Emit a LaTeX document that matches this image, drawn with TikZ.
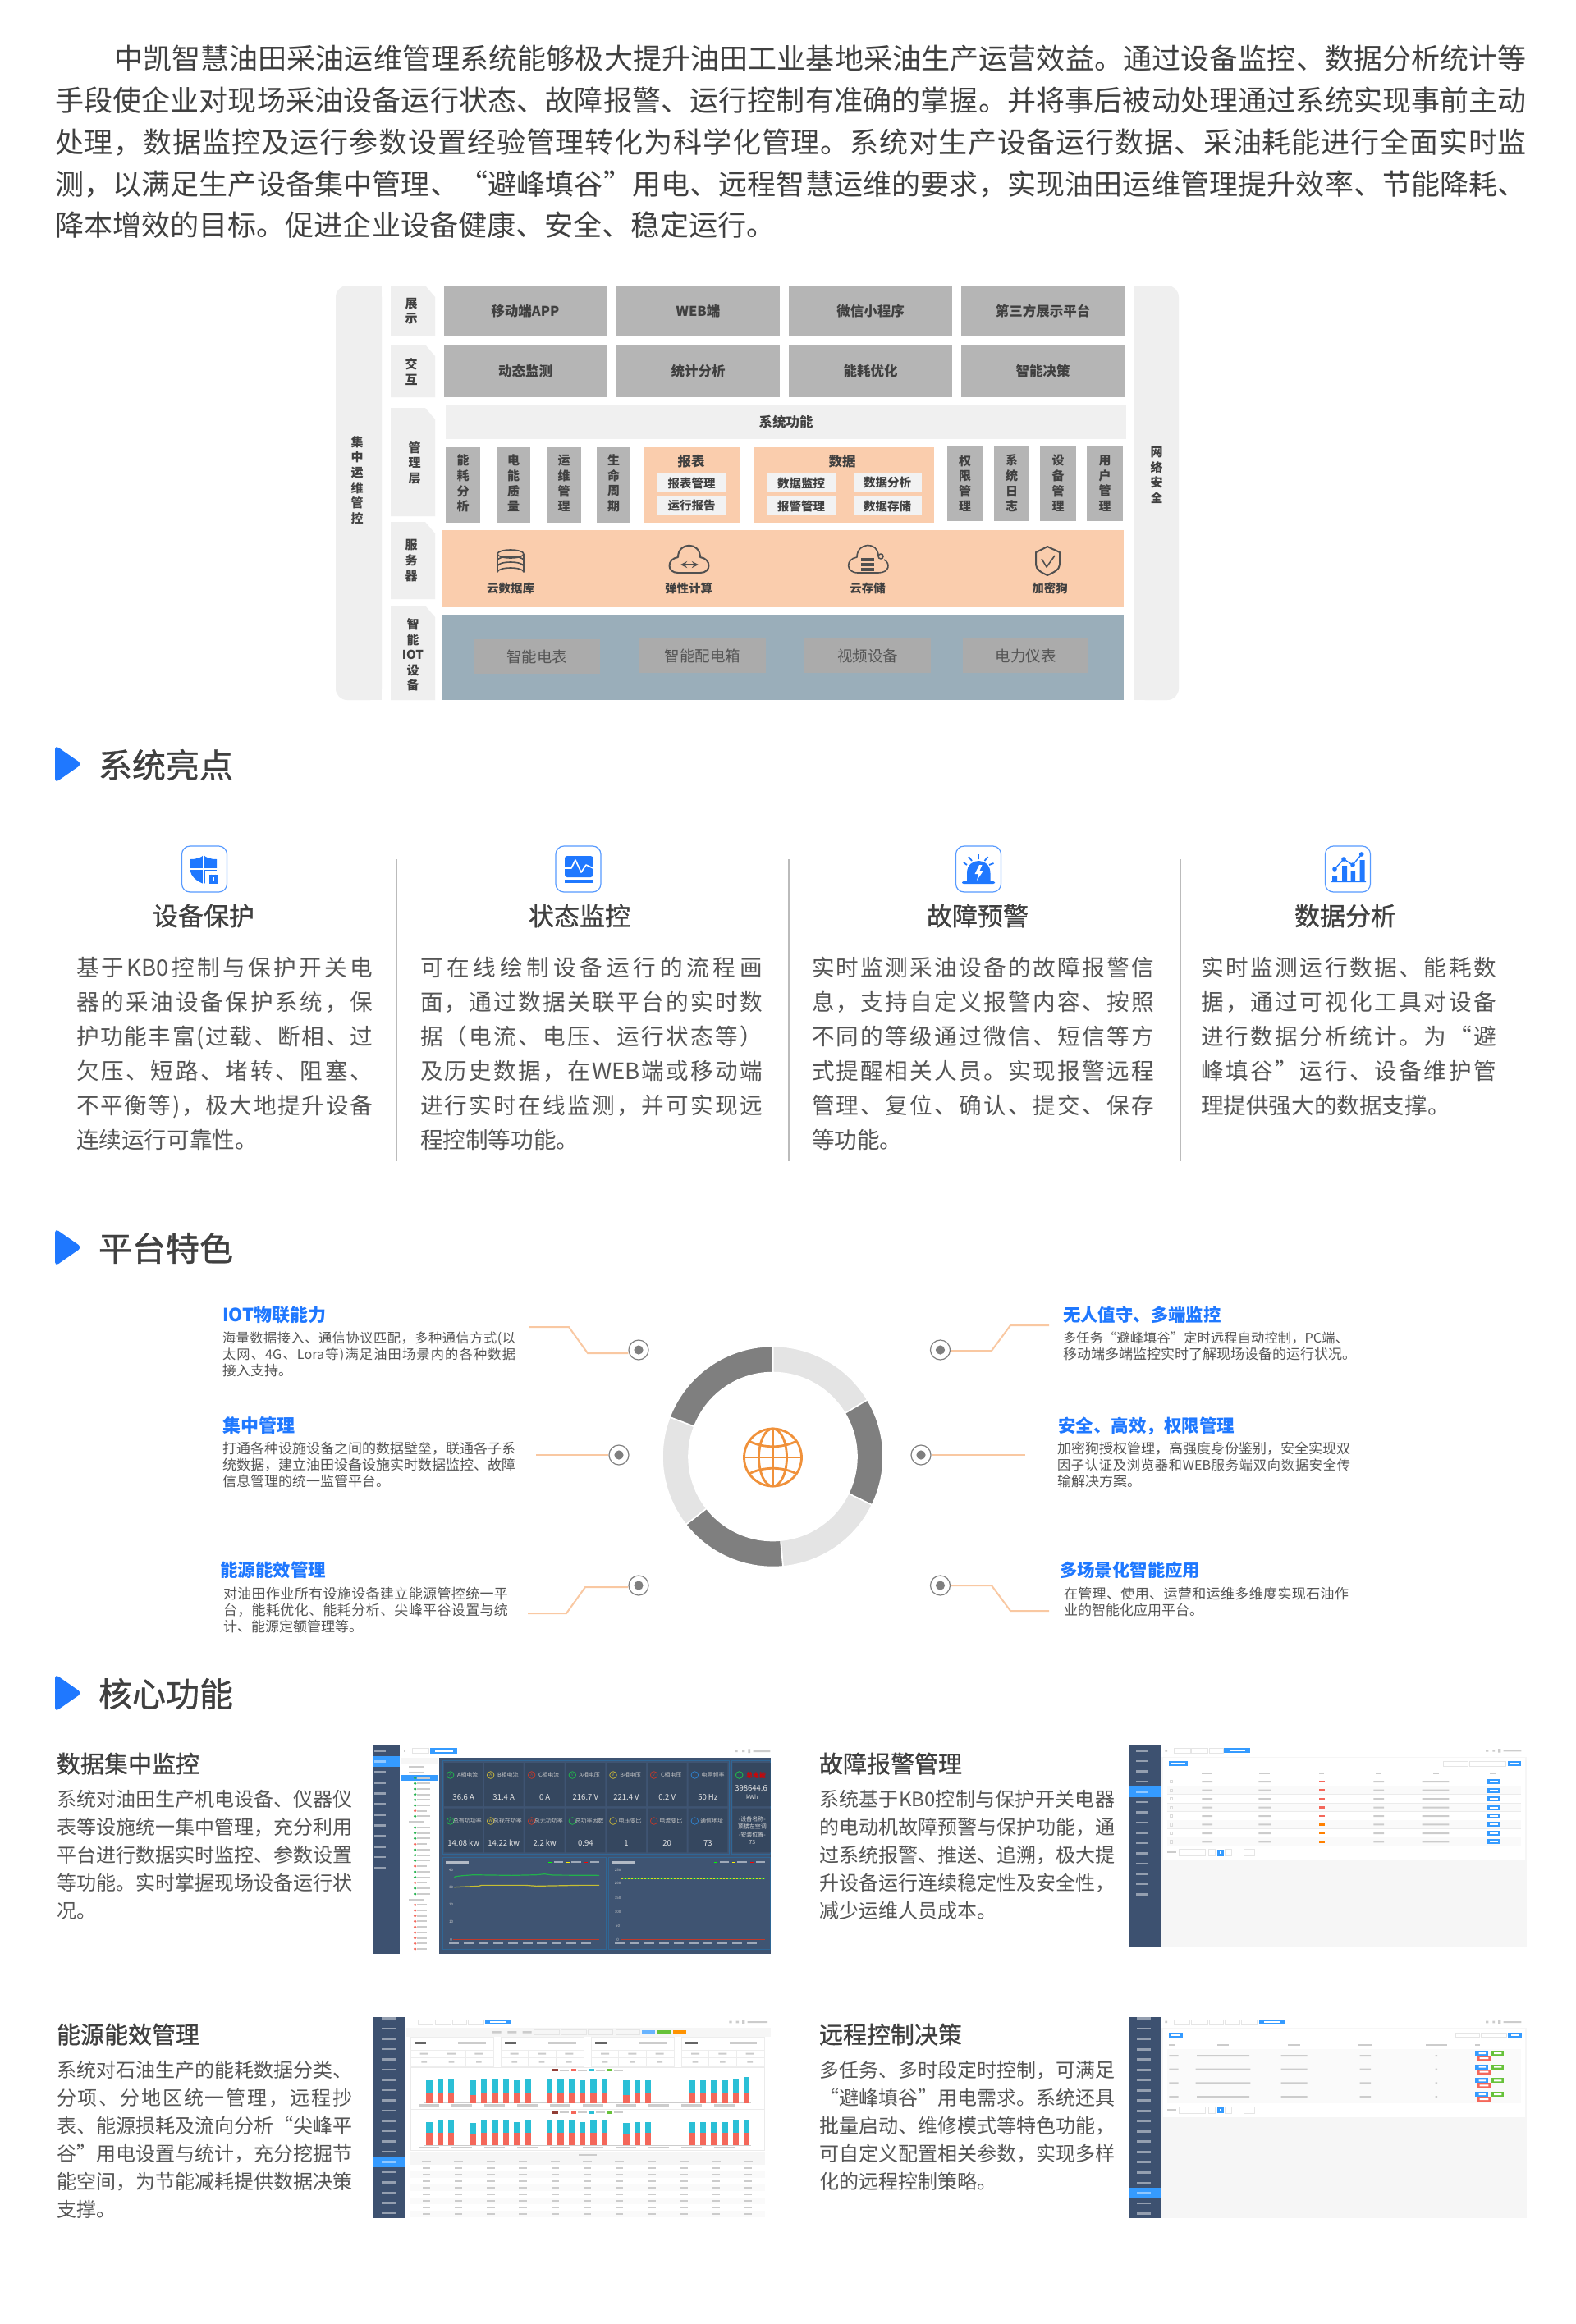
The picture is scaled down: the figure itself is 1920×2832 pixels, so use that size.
\documentclass[tikz,border=0pt]{standalone}
\usepackage{fontspec}
\setmainfont{Noto Sans CJK SC}
\newfontfamily\lbf[FakeBold=1.0]{Noto Sans CJK SC}
\definecolor{blueA}{HTML}{1F78FF}
\definecolor{txtD}{HTML}{404040}
\definecolor{txtB}{HTML}{555555}
\definecolor{lineO}{HTML}{F9C8A2}
\definecolor{panelG}{HTML}{EFEFEF}
\definecolor{grayB}{HTML}{B5B5B5}
\definecolor{orangeA}{HTML}{FACDAD}
\definecolor{steelB}{HTML}{9AAEBA}
\definecolor{boxG}{HTML}{ABABAB}
\definecolor{innerW}{HTML}{F2F2F2}
\definecolor{sideB}{HTML}{3D5170}
\definecolor{actB}{HTML}{359BFF}
\definecolor{darkM}{HTML}{3F5472}
\definecolor{cardD}{HTML}{35475F}
\definecolor{frameB}{HTML}{2F6796}
\definecolor{ringL}{HTML}{E4E4E4}
\definecolor{ringD}{HTML}{7F7F7F}
\definecolor{globeO}{HTML}{F0913A}
\definecolor{divG}{HTML}{BBBBBB}
\definecolor{blobG}{HTML}{CCCCCC}
\definecolor{bgS}{HTML}{F6F6F6}
\definecolor{rowS}{HTML}{FAFAFA}
\definecolor{gA}{HTML}{22B14C}
\definecolor{yA}{HTML}{C7B53A}
\definecolor{rA}{HTML}{C0392B}
\definecolor{bA}{HTML}{2F7FC8}
\definecolor{barR}{HTML}{F4675A}
\definecolor{barC}{HTML}{2BBFD6}
\definecolor{okG}{HTML}{67C23A}
\definecolor{darkI}{HTML}{505050}
\newcommand\pxf[1]{\fontsize{\fpeval{#1/2}}{\fpeval{#1*.6}}\selectfont}
% even spreading of a line over a fixed width: a glue between all units
\def\spStop{\spEndMark}
\def\spA#1{#1\spB}
\def\spB#1{\def\spTmp{#1}\ifx\spTmp\spStop\else\hskip 0pt plus 1fil\relax #1\expandafter\spB\fi}
\newcommand\Jl[7]{\node[jt,font=\pxf{#5},text=#6] (#1) at (#2,#3) {\vrule height.85em depth.15em width0pt\hbox to \dimexpr #4pt/2\relax{\spA#7\spEndMark}};}
\newcommand\Fl[6]{\node[ft,font=\pxf{#4},text=#5] (#1) at (#2,#3) {\vrule height.85em depth.15em width0pt #6};}
\tikzset{
  jt/.style={anchor=west,inner sep=0pt,outer sep=0pt},
  ft/.style={anchor=west,inner sep=0pt,outer sep=0pt},
  ct/.style={anchor=center,inner sep=0pt,outer sep=0pt,align=center},
  vlab/.style={ct,text=txtD,font=\fontsize{7.5}{9.3}\selectfont\bfseries},
  blab/.style={ct,text=txtD,font=\pxf{16.5}\bfseries},
  conn/.style={draw=lineO,line width=1pt},
  dotn/.style={circle,draw=ringD,fill=white,line width=.6pt,inner sep=0pt,minimum size=12pt},
  ic/.style={draw=darkI,line width=.8pt,line join=round},
  ibox/.style={draw=blueA!75,line width=.6pt,rounded corners=5pt,fill=white},
  tiny/.style={ct,font=\pxf{7},text=#1},
  tiny/.default=blobG
}
\begin{document}
\begin{tikzpicture}[x=0.5pt,y=-0.5pt]
\useasboundingbox (0,0) rectangle (1920,2832);
\fill[white] (0,0) rectangle (1920,2832);
% ---------- intro
\Jl{i1}{139}{72}{1721}{35}{txtD}{中凯智慧油田采油运维管理系统能够极大提升油田工业基地采油生产运营效益。通过设备监控、数据分析统计等}
\Jl{i2}{67}{123}{1793}{35}{txtD}{手段使企业对现场采油设备运行状态、故障报警、运行控制有准确的掌握。并将事后被动处理通过系统实现事前主动}
\Jl{i3}{67}{174}{1793}{35}{txtD}{处理，数据监控及运行参数设置经验管理转化为科学化管理。系统对生产设备运行数据、采油耗能进行全面实时监}
\Jl{i4}{67}{225}{1793}{35}{txtD}{测，以满足生产设备集中管理、“避峰填谷”用电、远程智慧运维的要求，实现油田运维管理提升效率、节能降耗、}
\Fl{i5}{67}{275}{35.1}{txtD}{降本增效的目标。促进企业设备健康、安全、稳定运行。}
% ---------- architecture
\fill[panelG,rounded corners=7pt] (409,348) -- (465,348) -- (465,853) -- (409,853) -- cycle;
\fill[panelG] (430,348) rectangle (465,853);
\fill[panelG,rounded corners=7pt] (1381,348) -- (1436,348) -- (1436,853) -- (1381,853) -- cycle;
\fill[panelG] (1381,348) rectangle (1410,853);
\foreach \ya/\yb in {348/409,420/484,497/629,636/730,738/853}
  \fill[panelG] (476,\ya) -- (518,\ya) -- (530,\ya+14) -- (530,\yb) -- (476,\yb) -- cycle;
\node[vlab] (lz) at (435,585) {集\\中\\运\\维\\管\\控};
\node[vlab] (ly) at (1409,579) {网\\络\\安\\全};
\node[vlab] (l1) at (501,379) {展\\示};
\node[vlab] (l2) at (501,453) {交\\互};
\node[vlab] (l3) at (505,564) {管\\理\\层};
\node[vlab] (l4) at (501,683) {服\\务\\器};
\node[vlab] (l5) at (503,798) {智\\能\\IOT\\设\\备};
\foreach \xa/\xb/\ta/\tb [count=\ii] in {541/739/移动端APP/动态监测,751/950/WEB端/统计分析,961/1160/微信小程序/能耗优化,1171/1370/第三方展示平台/智能决策}{
  \node[blab,fill=grayB,minimum width=(\xb-\xa)*0.5pt,minimum height=31pt] (ra\ii) at ({(\xa+\xb)/2},379) {\ta};
  \node[blab,fill=grayB,minimum width=(\xb-\xa)*0.5pt,minimum height=32pt] (rb\ii) at ({(\xa+\xb)/2},452) {\tb};
}
\node[blab,fill=panelG!95!white,minimum width=414.5pt,minimum height=20.5pt] (sys) at (957.5,514.5) {系统功能};
\foreach \xa/\xb/\tx [count=\ii] in {543/585/{能\\耗\\分\\析},605/646/{电\\能\\质\\量},666/708/{运\\维\\管\\理},727/768/{生\\命\\周\\期}}{
  \fill[grayB] (\xa,545) rectangle (\xb,637);
  \node[vlab] (va\ii) at ({(\xa+\xb)/2},589) {\tx};
}
\foreach \xa/\xb/\tx [count=\ii] in {1154/1197/{权\\限\\管\\理},1211/1254/{系\\统\\日\\志},1267/1311/{设\\备\\管\\理},1324/1368/{用\\户\\管\\理}}{
  \fill[grayB] (\xa,543) rectangle (\xb,635);
  \node[vlab] (vb\ii) at ({(\xa+\xb)/2},589) {\tx};
}
\fill[orangeA] (785,545) rectangle (901,637);
\fill[orangeA] (919,545) rectangle (1138,637);
\node[blab] (rpt) at (842,562) {报表};
\node[blab] (dat) at (1026,562) {数据};
\foreach \cx/\cy/\tx [count=\ii] in {842.5/588.5/报表管理,842.5/616.5/运行报告,976/588.5/数据监控,1081/588.5/数据分析,976/616.5/报警管理,1081/616.5/数据存储}{
  \node[blab,fill=innerW,minimum width=41.5pt,minimum height=11.5pt,font=\pxf{14.5}\bfseries] (sb\ii) at (\cx,\cy) {\tx};
}
\fill[orangeA] (539,646) rectangle (1369,740);
\fill[steelB] (539,749) rectangle (1369,853);
\foreach \cx/\cy/\tx [count=\ii] in {622/717/云数据库,839/717/弹性计算,1057/717/云存储,1279/717/加密狗}
  \node[blab,font=\pxf{14.5}\bfseries] (sv\ii) at (\cx,\cy) {\tx};
% server icons
\draw[ic] (606,675) arc[start angle=180,end angle=-180,x radius=16,y radius=5];
\draw[ic] (606,675) -- (606,697) arc[start angle=180,end angle=360,x radius=16,y radius=5] -- (638,675);
\draw[ic] (606,683) arc[start angle=180,end angle=360,x radius=16,y radius=5];
\draw[ic] (606,690) arc[start angle=180,end angle=360,x radius=16,y radius=5];
\draw[ic,line width=1pt] (826,698) .. controls (812,698) and (812,681) .. (826,679) .. controls (826,660) and (853,660) .. (853,679) .. controls (867,681) and (867,698) .. (853,698) -- cycle;
\draw[ic,<->,>=stealth] (829,688) -- (851,688);
\draw[ic] (1045,698) .. controls (1030,698) and (1030,681) .. (1044,679) .. controls (1044,660) and (1070,660) .. (1070,677);
\draw[ic] (1077,682) .. controls (1085,686) and (1084,698) .. (1070,698) -- (1045,698);
\draw[ic] (1073,678) circle (1.5pt);
\foreach \yy in {680,686,692} \fill[darkI] (1049,\yy) rectangle (1065,\yy+4);
\draw[ic,line width=1pt] (1276,666) -- (1291,673) -- (1291,688) .. controls (1291,694) and (1283,698) .. (1276,701) .. controls (1269,698) and (1262,694) .. (1262,688) -- (1262,673) -- cycle;
\draw[ic] (1269,681) -- (1275,691) -- (1285,677);
\foreach \xa/\xb/\ya/\tx [count=\ii] in {577/731/779/智能电表,779/933/778/智能配电箱,980/1134/778/视频设备,1173/1326/778/电力仪表}
  \node[ct,fill=boxG,text=txtB,font=\pxf{18.5},minimum width=(\xb-\xa)*0.5pt,minimum height=21pt,anchor=north] (io\ii) at ({(\xa+\xb)/2},\ya) {\tx};
% ---------- section heads
\foreach \yy/\tx [count=\ii] in {931/系统亮点,1520/平台特色,2063/核心功能}{
  \fill[blueA,rounded corners=2.5pt] (67,\yy-23) -- (100,\yy) -- (67,\yy+23) -- cycle;
  \node[ct,anchor=west,font=\pxf{41}\lbf,text=txtD] (h\ii) at (120,\yy+1) {\tx};
}
% ---------- highlights
\foreach \cx/\tx [count=\ii] in {249/设备保护,704.5/状态监控,1192/故障预警,1642/数据分析}{
  \node[ibox,minimum width=27.5pt,minimum height=28pt,inner sep=0pt] (ib\ii) at (\cx,1059) {};
}
\foreach \cx/\tx [count=\ii] in {248/设备保护,706/状态监控,1191/故障预警,1639/数据分析}
  \node[ct,font=\pxf{31}\lbf,text=txtD] (ht\ii) at (\cx,1116) {\tx};
\foreach \xx in {483,961,1438} \draw[divG,line width=1pt] (\xx,1047) -- (\xx,1415);
% shield
\fill[blueA] (232,1047) .. controls (240,1047) and (245,1045) .. (248,1042) .. controls (251,1045) and (256,1047) .. (264,1047) -- (264,1060) .. controls (264,1068) and (256,1074) .. (248,1077) .. controls (240,1074) and (232,1068) .. (232,1060) -- cycle;
\draw[white,line width=1pt] (248,1040) -- (248,1078) (230,1059) -- (266,1059);
\fill[white] (250,1061) rectangle (267,1079);
\fill[blueA] (255,1066) rectangle (265,1077);
\draw[blueA,line width=.6pt] (257,1066) arc[start angle=180,end angle=0,radius=3];
\fill[white] (259.5,1069) rectangle (260.5,1074);
% monitor
\fill[blueA,rounded corners=1.5pt] (688,1043) rectangle (722.5,1069);
\fill[blueA] (688,1072) rectangle (722.5,1076);
\draw[white,line width=.8pt,line join=round] (688,1058) -- (696,1058) -- (701,1048) -- (708,1063) -- (714,1054) -- (722.5,1058);
% alarm
\fill[blueA] (1178,1073) -- (1178,1064) .. controls (1178,1044) and (1206.5,1044) .. (1206.5,1064) -- (1206.5,1073) -- cycle;
\fill[blueA,rounded corners=1pt] (1172,1074) rectangle (1212,1077);
\fill[white] (1193,1054) -- (1187.5,1065) -- (1192,1065) -- (1190,1073) -- (1198,1061) -- (1193.5,1061) -- (1196.5,1054) -- cycle;
\draw[blueA,line width=.9pt] (1192,1041) -- (1192,1047) (1180,1044) -- (1184,1049) (1199.5,1049) -- (1203.5,1044) (1174,1051) -- (1178,1054) (1205,1054) -- (1210.5,1052);
% chart
\fill[blueA] (1623,1067) rectangle (1629,1073) (1635,1055) rectangle (1641,1073) (1645.5,1061) rectangle (1651,1073) (1656.6,1048) rectangle (1662.5,1073) (1622,1073) rectangle (1664,1075);
\draw[blueA,line width=.7pt] (1626,1059) -- (1637,1047) -- (1648,1054) -- (1658.7,1041);
\foreach \a/\b in {1626/1059,1637/1047,1648/1054,1658.7/1041} \fill[blueA] (\a,\b) circle (1.4pt);
% highlight text
\Jl{a1}{93}{1180}{361}{27.6}{txtB}{基于{KB0}控制与保护开关电}
\Jl{a2}{93}{1222}{361}{27.6}{txtB}{器的采油设备保护系统，保}
\Jl{a3}{93}{1264}{361}{27.6}{txtB}{护功能丰富(过载、断相、过}
\Jl{a4}{93}{1306}{361}{27.6}{txtB}{欠压、短路、堵转、阻塞、}
\Jl{a5}{93}{1348}{361}{27.6}{txtB}{不平衡等)，极大地提升设备}
\Fl{a6}{93}{1390}{27.6}{txtB}{连续运行可靠性。}
\Jl{b1}{512}{1180}{417}{27.6}{txtB}{可在线绘制设备运行的流程画}
\Jl{b2}{512}{1222}{417}{27.6}{txtB}{面，通过数据关联平台的实时数}
\Jl{b3}{512}{1264}{417}{27.6}{txtB}{据（电流、电压、运行状态等）}
\Jl{b4}{512}{1306}{417}{27.6}{txtB}{及历史数据，在{WEB}端或移动端}
\Jl{b5}{512}{1348}{417}{27.6}{txtB}{进行实时在线监测，并可实现远}
\Fl{b6}{512}{1390}{27.6}{txtB}{程控制等功能。}
\Jl{c1}{989}{1180}{417}{27.6}{txtB}{实时监测采油设备的故障报警信}
\Jl{c2}{989}{1222}{417}{27.6}{txtB}{息，支持自定义报警内容、按照}
\Jl{c3}{989}{1264}{417}{27.6}{txtB}{不同的等级通过微信、短信等方}
\Jl{c4}{989}{1306}{417}{27.6}{txtB}{式提醒相关人员。实现报警远程}
\Jl{c5}{989}{1348}{417}{27.6}{txtB}{管理、复位、确认、提交、保存}
\Fl{c6}{989}{1390}{27.6}{txtB}{等功能。}
\Jl{d1}{1463}{1180}{360}{27.6}{txtB}{实时监测运行数据、能耗数}
\Jl{d2}{1463}{1222}{360}{27.6}{txtB}{据，通过可视化工具对设备}
\Jl{d3}{1463}{1264}{360}{27.6}{txtB}{进行数据分析统计。为“避}
\Jl{d4}{1463}{1306}{360}{27.6}{txtB}{峰填谷”运行、设备维护管}
\Fl{d5}{1463}{1348}{27.6}{txtB}{理提供强大的数据支撑。}
% ---------- platform
\Fl{pa}{271}{1603}{22}{blueA}{\bfseries IOT物联能力}
\Jl{pa1}{271}{1631}{357}{16.2}{txtB}{海量数据接入、通信协议匹配，多种通信方式(以}
\Jl{pa2}{271}{1651}{357}{16.2}{txtB}{太网、{4G}、{Lora}等)满足油田场景内的各种数据}
\Fl{pa3}{271}{1671}{17}{txtB}{接入支持。}
\Fl{pb}{271}{1738}{22}{blueA}{\bfseries 集中管理}
\Jl{pb1}{271}{1766}{357}{17}{txtB}{打通各种设施设备之间的数据壁垒，联通各子系}
\Jl{pb2}{271}{1786}{357}{17}{txtB}{统数据，建立油田设备设施实时数据监控、故障}
\Fl{pb3}{271}{1806}{17}{txtB}{信息管理的统一监管平台。}
\Fl{pc}{268}{1914}{21.5}{blueA}{\bfseries 能源能效管理}
\Jl{pc1}{272}{1943}{347}{17}{txtB}{对油田作业所有设施设备建立能源管控统一平}
\Jl{pc2}{272}{1963}{347}{17}{txtB}{台，能耗优化、能耗分析、尖峰平谷设置与统}
\Fl{pc3}{272}{1983}{17}{txtB}{计、能源定额管理等。}
\Fl{pd}{1295}{1603}{21.4}{blueA}{\bfseries 无人值守、多端监控}
\Jl{pd1}{1295}{1631}{348}{16.2}{txtB}{多任务“避峰填谷”定时远程自动控制，{PC}端、}
\Fl{pd2}{1295}{1651}{17}{txtB}{移动端多端监控实时了解现场设备的运行状况。}
\Fl{pe}{1289}{1738}{21.5}{blueA}{\bfseries 安全、高效，权限管理}
\Jl{pe1}{1288}{1766}{357}{17}{txtB}{加密狗授权管理，高强度身份鉴别，安全实现双}
\Jl{pe2}{1288}{1786}{357}{16.2}{txtB}{因子认证及浏览器和{WEB}服务端双向数据安全传}
\Fl{pe3}{1288}{1806}{17}{txtB}{输解决方案。}
\Fl{pf}{1291}{1914}{21.4}{blueA}{\bfseries 多场景化智能应用}
\Jl{pf1}{1296}{1943}{347}{17}{txtB}{在管理、使用、运营和运维多维度实现石油作}
\Fl{pf2}{1296}{1963}{17}{txtB}{业的智能化应用平台。}
% dots and connectors
\foreach \nm/\xx/\yy in {q1/778/1645,q2/754/1773,q3/778/1932,q4/1145.5/1645,q5/1122/1773,q6/1145.5/1932}{
  \node[dotn] (\nm) at (\xx,\yy) {};
  \fill[ringD] (\nm) circle (2.8pt);
}
\coordinate (k1) at (645,1617); \coordinate (k1b) at (716,1649);
\draw[conn] (k1) -- (693,1617) -- (k1b) -- (q1.west |- k1b);
\coordinate (k2) at (653,1773);
\draw[conn] (k2) -- (q2.west);
\coordinate (k3) at (643,1966); \coordinate (k3b) at (713,1934);
\draw[conn] (k3) -- (690,1966) -- (k3b) -- (q3.west |- k3b);
\coordinate (k4) at (1278,1615); \coordinate (k4b) at (1208,1646);
\draw[conn] (k4) -- (1231,1615) -- (k4b) -- (q4.east |- k4b);
\coordinate (k5) at (1249,1773);
\draw[conn] (k5) -- (q5.east);
\coordinate (k6) at (1278,1963); \coordinate (k6b) at (1208,1932);
\draw[conn] (k6) -- (1231,1963) -- (k6b) -- (q6.east |- k6b);
% ring
\begin{scope}[shift={(941.5,1775)},x=0.5pt,y=0.5pt]
\foreach \a/\b/\cc in {90/31/ringL,31/-26/ringD,-26/-84.7/ringL,-84.7/-142/ringD,-142/-201/ringL,159/90/ringD}
  \fill[\cc,draw=white,line width=.8pt] (\a:134.5) arc[start angle=\a,end angle=\b,radius=134.5] -- (\b:102.5) arc[start angle=\b,end angle=\a,radius=102.5] -- cycle;
\end{scope}
% globe
\begin{scope}[shift={(941.5,1776)},x=0.5pt,y=0.5pt,globeO,line width=1.4pt]
\draw (0,0) circle (35);
\draw (0,0) ellipse (17 and 35);
\draw (0,35) -- (0,-35) (-35,0) -- (35,0);
\draw (-29,20) .. controls (-12,11) and (12,11) .. (29,20);
\draw (-29,-20) .. controls (-12,-11) and (12,-11) .. (29,-20);
\end{scope}
% ---------- core text
\Fl{t1}{69}{2150}{29}{txtD}{\lbf 数据集中监控}
\Jl{t11}{69}{2193}{360}{24}{txtB}{系统对油田生产机电设备、仪器仪}
\Jl{t12}{69}{2227}{360}{24}{txtB}{表等设施统一集中管理，充分利用}
\Jl{t13}{69}{2261}{360}{24}{txtB}{平台进行数据实时监控、参数设置}
\Jl{t14}{69}{2295}{360}{24}{txtB}{等功能。实时掌握现场设备运行状}
\Fl{t15}{69}{2329}{24}{txtB}{况。}
\Fl{t2}{69}{2480}{29}{txtD}{\lbf 能源能效管理}
\Fl{t21}{69}{2523}{24}{txtB}{系统对石油生产的能耗数据分类、}
\Jl{t22}{69}{2557}{360}{24}{txtB}{分项、分地区统一管理，远程抄}
\Jl{t23}{69}{2591}{360}{24}{txtB}{表、能源损耗及流向分析“尖峰平}
\Jl{t24}{69}{2625}{360}{24}{txtB}{谷”用电设置与统计，充分挖掘节}
\Jl{t25}{69}{2659}{360}{24}{txtB}{能空间，为节能减耗提供数据决策}
\Fl{t26}{69}{2693}{24}{txtB}{支撑。}
\Fl{t3}{998}{2150}{29}{txtD}{\lbf 故障报警管理}
\Jl{t31}{998}{2193}{360}{24}{txtB}{系统基于{KB0}控制与保护开关电器}
\Jl{t32}{998}{2227}{360}{24}{txtB}{的电动机故障预警与保护功能，通}
\Jl{t33}{998}{2261}{360}{24}{txtB}{过系统报警、推送、追溯，极大提}
\Fl{t34}{998}{2295}{24}{txtB}{升设备运行连续稳定性及安全性，}
\Fl{t35}{998}{2329}{24}{txtB}{减少运维人员成本。}
\Fl{t4}{998}{2480}{29}{txtD}{\lbf 远程控制决策}
\Jl{t41}{998}{2523}{360}{24}{txtB}{多任务、多时段定时控制，可满足}
\Jl{t42}{998}{2557}{360}{24}{txtB}{“避峰填谷”用电需求。系统还具}
\Fl{t43}{998}{2591}{24}{txtB}{批量启动、维修模式等特色功能，}
\Jl{t44}{998}{2625}{360}{24}{txtB}{可自定义配置相关参数，实现多样}
\Fl{t45}{998}{2659}{24}{txtB}{化的远程控制策略。}
% ---------- screenshot 1
\begin{scope}[shift={(440,2120)},x=0.16667pt,y=-0.16667pt]
\fill[sideB] (41,22) rectangle (141,784);
\fill[actB] (41,61) rectangle (141,99);
\foreach \yy in {41,80,119,158,197,236,275,313,352,391,429,468} \fill[white,opacity=.45] (47,\yy-4) rectangle (90,\yy+4);
\fill[bgS] (145,67) rectangle (280,87);
\fill[actB] (145,130) rectangle (280,150);
\foreach \yy in {100,120,300,584} \fill[blobG] (175,\yy-3) rectangle (232,\yy+3);
\foreach \yy in {140,160,180,200,220,240,280,321,341,361,402,422,442,483,503,543,564} {\fill[gA] (197,\yy) circle (.9pt); \fill[blobG] (204,\yy-3) rectangle (252,\yy+3);}
\foreach \yy in {260,382,462,523,604,624,644,664,685,705,725,745,765} {\fill[barR] (197,\yy) circle (.9pt); \fill[blobG] (204,\yy-3) rectangle (240,\yy+3);}
\draw[blobG!50,line width=.3pt] (187,32) rectangle (248,50);
\fill[actB] (253,31) rectangle (352,50);
\fill[white] (270,37) rectangle (335,44);
\fill[blobG] (155,38) rectangle (162,44);
\fill[blobG] (1365,38) rectangle (1376,45) (1392,38) rectangle (1402,45) (1414,34) rectangle (1422,48) (1433,38) rectangle (1495,45);
\fill[darkM] (285,65) rectangle (1496,782);
\draw[frameB,line width=.8pt] (297,76) rectangle (1346,418) (1354,76) rectangle (1496,418) (299,431) rectangle (897,766) (905,431) rectangle (1496,766);
\foreach \xa/\cc/\la/\va/\lb/\vb/\ia/\ib [count=\ii] in {
 303/gA/A相电流/36.6 A/总有功功率/14.08 kw/A/W,
 450/yA/B相电流/31.4 A/总视在功率/14.22 kw/A/W,
 600/rA/C相电流/0 A/总无功功率/2.2 kw/A/W,
 749/gA/A相电压/216.7 V/总功率因数/0.94/V/,
 898/yA/B相电压/221.4 V/电压变比/1/V/,
 1047/rA/C相电压/0.2 V/电流变比/20/V/,
 1196/bA/电网频率/50 Hz/通信地址/73//}{
  \fill[cardD] (\xa,84) rectangle (\xa+143,243) (\xa,251) rectangle (\xa+143,412);
  \node[circle,draw=\cc,line width=.4pt,minimum size=4.3pt,inner sep=0pt,font=\pxf{4.5},text=\cc] (cia\ii) at (\xa+23,129) {\ia};
  \node[circle,draw=\cc,line width=.4pt,minimum size=4.3pt,inner sep=0pt,font=\pxf{4.5},text=\cc] (cib\ii) at (\xa+23,297) {\ib};
  \node[tiny=white!78!black,anchor=west] (cla\ii) at (\xa+48,129) {\la};
  \node[tiny=white!78!black,anchor=center] (clb\ii) at (\xa+85,297) {\lb};
  \node[ct,font=\pxf{9.5},text=white!90!black] (cva\ii) at (\xa+71,209) {\va};
  \node[ct,font=\pxf{9.5},text=white!90!black] (cvb\ii) at (\xa+71,378) {\vb};
}
\fill[cardD] (1357,84) rectangle (1496,243) (1357,251) rectangle (1496,412);
\node[circle,draw=gA,line width=.5pt,minimum size=4.3pt,inner sep=0pt] (cz) at (1382,129) {};
\node[ct,font=\pxf{8}\bfseries,text=red!85!black] (czl) at (1443,129) {总电能};
\node[ct,font=\pxf{9.5},text=white!90!black] (czv) at (1425,178) {398644.6};
\node[tiny=white!85!black] (czu) at (1429,208) {kWh};
\node[tiny=white!85!black] (cz1) at (1429,290) {-设备名称-};
\node[tiny=white!85!black] (cz2) at (1429,318) {顶楼左空调};
\node[tiny=white!85!black] (cz3) at (1429,346) {-安装位置-};
\node[tiny=white!85!black] (cz4) at (1429,374) {73};
\foreach \xa in {0,606} {
  \fill[white,opacity=.6] (\xa+310,444) rectangle (\xa+392,453);
  \foreach \xb/\cc in {690/green,755/yellow,822/red} {\fill[\cc] (\xa+\xb-6,446) rectangle (\xa+\xb+6,450); \fill[white,opacity=.5] (\xa+\xb+14,445) rectangle (\xa+\xb+48,451);}
  \foreach \xb in {340,393.5,447,500.5,554,607.5,661,714.5,768,821.5} \fill[white,opacity=.5] (\xa+\xb-18,739) rectangle (\xa+\xb+18,746);
}
\foreach \yy/\tx [count=\ii] in {476/40,539/30,603/20,667/10,731/0} \node[ct,font=\pxf{4.5},text=white!80!black] (ax\ii) at (329,\yy) {\tx};
\foreach \yy/\tx [count=\ii] in {476/250,526/200,578/150,629/100,680/50,731/0} \node[ct,font=\pxf{4.5},text=white!80!black] (bx\ii) at (938,\yy) {\tx};
\draw[gA,line width=.6pt] (340,503) -- (345,500) -- (370,497) -- (410,494) -- (550,496) -- (640,494) -- (670,491) -- (700,495) -- (870,496);
\draw[yellow!75!black,line width=.6pt] (340,539) -- (430,535) -- (440,532) -- (600,532) -- (640,535) -- (800,532) -- (870,532);
\draw[rA,line width=.6pt] (335,731) -- (870,731);
\draw[gA,line width=1pt] (950,508) -- (1475,508);
\draw[yellow!85!black,line width=.6pt,dash pattern=on 1pt off 1pt] (950,508) -- (1475,508);
\draw[rA,line width=.6pt] (950,731) -- (1475,731);
\end{scope}
% ---------- screenshot 2
\begin{scope}[shift={(1370,2120)},x=0.16667pt,y=-0.16667pt]
\fill[bgS] (136,62) rectangle (1470,757);
\fill[white] (141,66) rectangle (1465,438);
\fill[sideB] (15,22) rectangle (136,757);
\fill[actB] (15,172) rectangle (136,209);
\foreach \yy in {41,78,116,153,190,228,265,303,340,378,415,453,490,528,565} \fill[white,opacity=.45] (42,\yy-4) rectangle (88,\yy+4);
\foreach \xa/\xb in {180/240,245/305,310/360} \draw[blobG!50,line width=.3pt] (\xa,31) rectangle (\xb,49);
\fill[actB] (363,30) rectangle (458,49);
\fill[white] (385,37) rectangle (440,43);
\fill[blobG] (148,37) rectangle (156,44) (1320,36) rectangle (1330,44) (1345,36) rectangle (1353,44) (1365,33) rectangle (1375,47) (1385,37) rectangle (1450,43);
\fill[actB] (163,79) rectangle (230,97);
\fill[white] (172,85) rectangle (222,91);
\draw[blobG!50,line width=.3pt] (1165,80) rectangle (1255,97) (1260,80) rectangle (1393,97);
\fill[actB] (1401,79) rectangle (1450,97);
\fill[white] (1410,85) rectangle (1440,91);
\foreach \xx/\ww in {302/20,512/20,720/10,929/10,1138/10,1345/10} \fill[blobG] (\xx-\ww,120) rectangle (\xx+\ww,126);
\foreach \yy [count=\ii] in {153,185,216,248,279,310,342,373} {
  \ifodd\ii\else \fill[rowS] (155,\yy-15) rectangle (1450,\yy+15); \fi
  \draw[blobG!40,line width=.2pt] (155,\yy+15) -- (1450,\yy+15);
  \draw[blobG!70,line width=.2pt] (165,\yy-5) rectangle (175,\yy+5);
  \fill[blobG] (283,\yy-3) rectangle (321,\yy+3) (490,\yy-3) rectangle (534,\yy+3) (910,\yy-3) rectangle (948,\yy+3) (1088,\yy-3) rectangle (1186,\yy+3);
  \fill[actB] (1326,\yy-9) rectangle (1374,\yy+9);
  \fill[white] (1335,\yy-3) rectangle (1365,\yy+3);
}
\foreach \yy in {153,185,216,248,279} \fill[barR] (711,\yy-4) rectangle (731,\yy+4);
\foreach \yy in {310,342,373} \fill[orange] (711,\yy-4) rectangle (731,\yy+4);
\fill[blobG] (156,409) rectangle (188,415);
\draw[blobG!50,line width=.3pt] (200,401) rectangle (295,424) (308,401) rectangle (332,424) (368,401) rectangle (392,424) (435,401) rectangle (474,424);
\fill[actB] (338,401) rectangle (362,425);
\fill[white] (348,409) rectangle (352,416);
\end{scope}
% ---------- screenshot 3
\begin{scope}[shift={(440,2450)},x=0.16667pt,y=-0.16667pt]
\fill[white] (162,24) rectangle (1496,758);
\fill[bgS] (165,62) rectangle (1496,96);
\fill[sideB] (42,24) rectangle (162,758);
\fill[actB] (42,534) rectangle (162,572);
\foreach \yy in {29,66,104,141,179,216,254,291,329,366,404,441,478,516,553,591,628,666,703,741} \fill[white,opacity=.45] (75,\yy-4) rectangle (125,\yy+4);
\foreach \xa/\xb in {208/262,270/328,335/385,392/448} \draw[blobG!50,line width=.3pt] (\xa,33) rectangle (\xb,51);
\fill[actB] (453,32) rectangle (548,51);
\fill[white] (470,38) rectangle (530,44);
\fill[blobG] (1345,38) rectangle (1355,46) (1370,38) rectangle (1380,46) (1392,35) rectangle (1402,49) (1412,39) rectangle (1485,45);
\fill[blobG] (480,75) rectangle (512,83) (535,75) rectangle (568,83) (590,75) rectangle (623,83);
\draw[blobG!50,line width=.3pt] (632,71) rectangle (724,88) (730,71) rectangle (822,88) (830,71) rectangle (918,88) (930,71) rectangle (1018,88);
\fill[actB!75] (1026,71) rectangle (1074,88);
\fill[okG] (1083,71) rectangle (1131,88);
\fill[orange!85!yellow] (1141,71) rectangle (1189,88);
\foreach \xa in {180,510,841,1171} {
  \fill[white,draw=blobG!35,line width=.3pt] (\xa,96) rectangle (\xa+303,204);
  \draw[blobG!35,line width=.2pt] (\xa,143) -- (\xa+303,143) (\xa,172) -- (\xa+303,172) (\xa+100,143) -- (\xa+100,204) (\xa+202,143) -- (\xa+202,204);
  \fill[black!60] (\xa+15,115) rectangle (\xa+58,123);
  \fill[blobG] (\xa+175,115) rectangle (\xa+275,122);
  \foreach \dx in {50,150,250} \fill[blobG] (\xa+\dx-15,155) rectangle (\xa+\dx+15,161) (\xa+\dx-10,185) rectangle (\xa+\dx+10,191);
}
\foreach \ya in {0,154} {
  \fill[barR!60!black] (700,\ya+214) rectangle (720,\ya+223);
  \fill[barR] (767,\ya+214) rectangle (787,\ya+223);
  \fill[barC] (833,\ya+214) rectangle (853,\ya+223);
  \fill[okG] (899,\ya+214) rectangle (919,\ya+223);
  \foreach \xx in {725,792,858,924} \fill[blobG] (\xx,\ya+215) rectangle (\xx+34,\ya+222);
  \foreach \xx in {248,368,488,608,728,848,968,1088,1208,1328} \fill[blobG] (\xx-38,\ya+343) rectangle (\xx+38,\ya+350);
}
\draw[blobG!40,line width=.3pt] (180,208) rectangle (1475,360) (180,362) rectangle (1475,512);
\draw[blobG,line width=.4pt] (230,338) -- (1425,338) (230,492) -- (1425,492);
\foreach \xx/\ca/\ra/\cb/\rb in {238/255/303/408/447,278/249/303/403/447,318/249/303/403/447,398/255/309/411/454,438/249/303/403/447,478/249/303/403/447,518/249/303/403/447,558/255/303/408/447,598/249/303/403/447,678/249/303/403/447,718/249/303/403/447,758/249/303/403/447,798/255/303/408/447,838/249/303/403/447,878/249/303/403/447,958/255/309/411/454,998/255/303/408/447,1038/255/303/408/447,1198/255/303/408/447,1238/255/303/408/447,1278/255/303/408/447,1318/255/303/408/447,1358/249/303/403/447,1398/243/303/399/447}{
  \fill[barC] (\xx,\ca) rectangle (\xx+22,\ra);
  \fill[barR] (\xx,\ra) rectangle (\xx+22,338);
  \fill[barC] (\xx,\cb) rectangle (\xx+22,\rb);
  \fill[barR] (\xx,\rb) rectangle (\xx+22,492);
}
\fill[bgS] (180,516) rectangle (1475,564);
\foreach \yy in {600,648,697,745} \fill[rowS] (180,\yy-12) rectangle (1475,\yy+12);
\fill[blobG] (795,524) rectangle (860,531);
\foreach \xx in {238,356,474,591,709,827,944,1062,1180,1297,1415} {
  \fill[blobG] (\xx-16,548) rectangle (\xx+16,555);
  \foreach \yy in {576,600,625,648,672,697,721,745} \fill[blobG] (\xx-14,\yy-3) rectangle (\xx+14,\yy+3);
}
\end{scope}
% ---------- screenshot 4
\begin{scope}[shift={(1370,2450)},x=0.16667pt,y=-0.16667pt]
\fill[bgS] (136,62) rectangle (1470,760);
\fill[white] (141,66) rectangle (1465,390);
\fill[sideB] (15,24) rectangle (135,760);
\fill[actB] (15,648) rectangle (135,686);
\foreach \yy in {29,66,104,142,179,217,254,292,329,367,404,442,479,517,554,592,630,667,705,742} \fill[white,opacity=.45] (45,\yy-4) rectangle (95,\yy+4);
\foreach \xa/\xb in {180/238,245/303,310/360,366/422,428/485} \draw[blobG!50,line width=.3pt] (\xa,33) rectangle (\xb,51);
\fill[actB] (492,32) rectangle (587,51);
\fill[white] (510,38) rectangle (570,44);
\fill[blobG] (148,38) rectangle (156,45) (1320,38) rectangle (1330,46) (1345,38) rectangle (1353,46) (1365,35) rectangle (1375,49) (1385,39) rectangle (1450,45);
\fill[actB] (162,81) rectangle (212,99);
\fill[white] (172,87) rectangle (202,93);
\draw[blobG!50,line width=.3pt] (1210,81) rectangle (1298,98) (1303,81) rectangle (1395,98);
\fill[actB] (1402,81) rectangle (1451,99);
\fill[white] (1412,87) rectangle (1442,93);
\foreach \xx/\ww in {175/12,360/22,620/22,880/24,1140/40,1290/10} \fill[blobG] (\xx-\ww,122) rectangle (\xx+\ww,128);
\foreach \yy/\tw in {165/96,215/100,265/100,315/96}{
  \fill[rowS] (155,\yy-25) rectangle (1450,\yy+25);
  \fill[blobG] (163,\yy-3) rectangle (197,\yy+3) (360-\tw,\yy-3) rectangle (360+\tw,\yy+3) (572,\yy-3) rectangle (668,\yy+3) (860,\yy-3) rectangle (900,\yy+3) (1136,\yy-3) rectangle (1143,\yy+3);
  \fill[actB] (1281,\yy-18) rectangle (1329,\yy);
  \fill[okG] (1338,\yy-18) rectangle (1386,\yy);
  \fill[barR] (1290,\yy) rectangle (1338,\yy+18);
  \fill[white] (1295,\yy-12) rectangle (1320,\yy-6) (1350,\yy-12) rectangle (1378,\yy-6) (1298,\yy+6) rectangle (1330,\yy+12);
}
\fill[blobG] (155,360) rectangle (188,367);
\draw[blobG!50,line width=.3pt] (200,352) rectangle (295,375) (308,352) rectangle (332,375) (368,352) rectangle (392,375) (435,352) rectangle (474,375);
\fill[actB] (338,352) rectangle (362,376);
\fill[white] (348,360) rectangle (352,367);
\end{scope}
\end{tikzpicture}
\end{document}
